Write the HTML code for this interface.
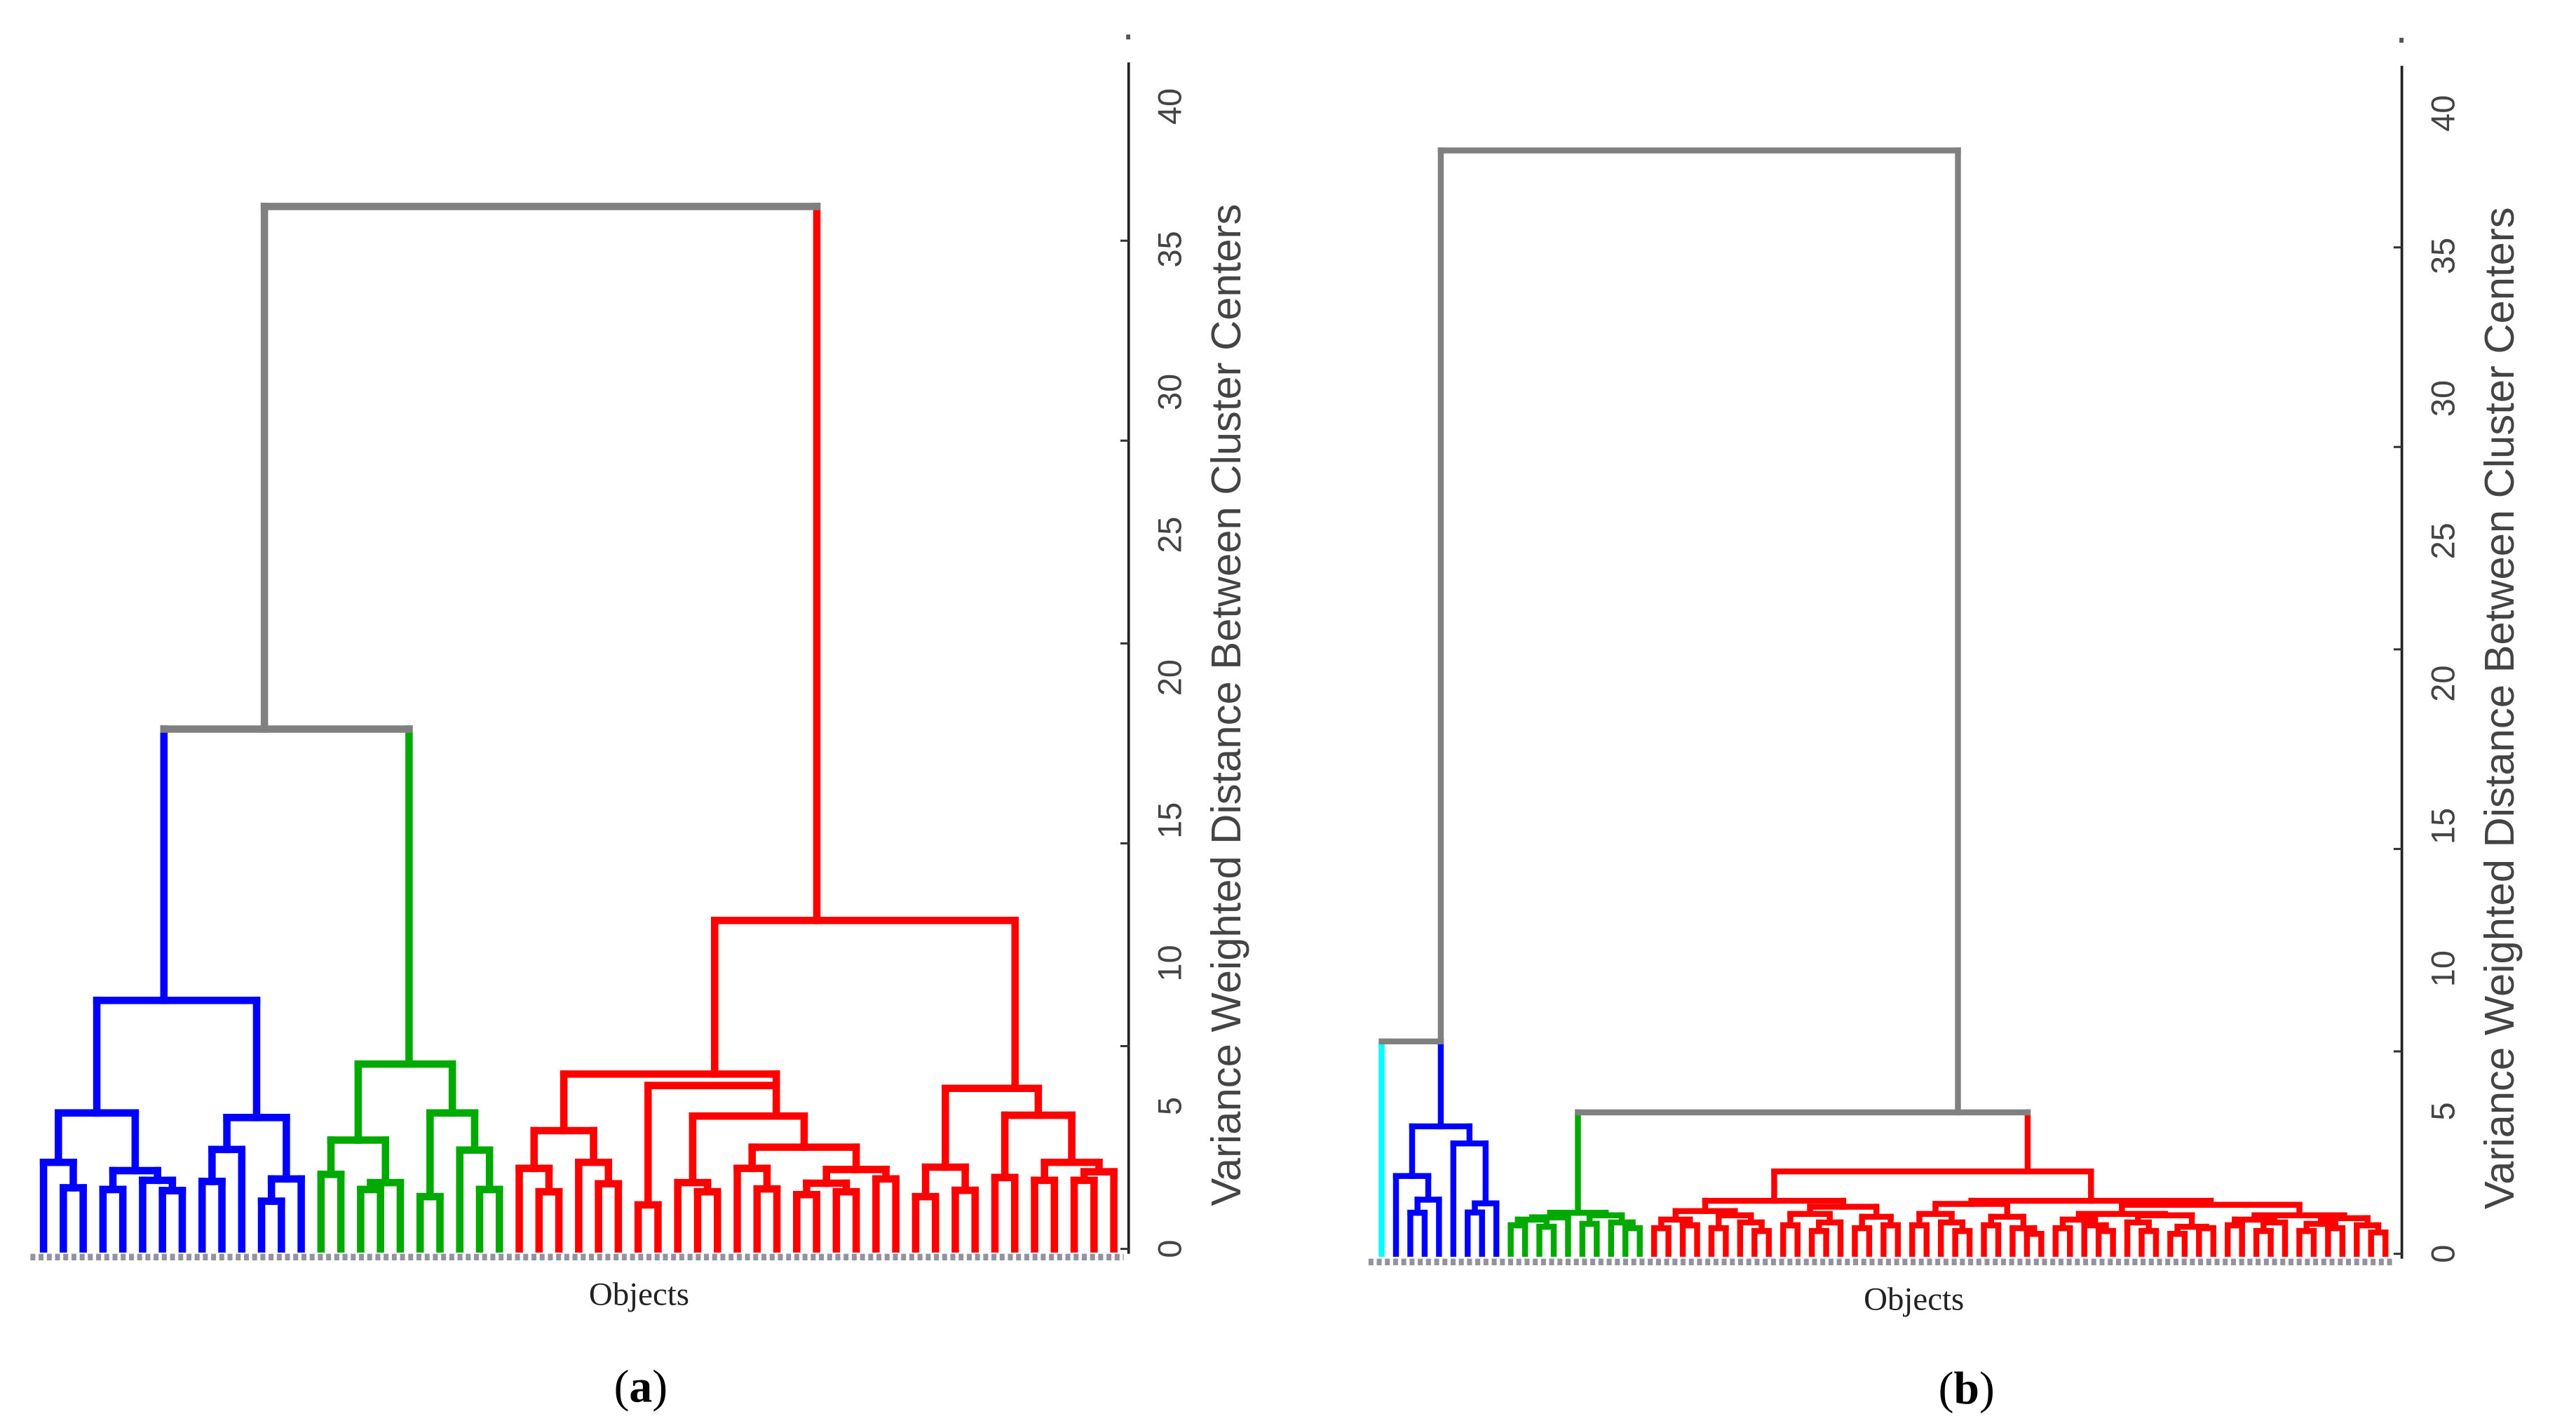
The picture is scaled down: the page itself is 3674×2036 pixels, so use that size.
<!DOCTYPE html>
<html><head><meta charset="utf-8"><style>
html,body{margin:0;padding:0;background:#fff;}
svg{display:block;}
</style></head><body>
<svg id="fig" xmlns="http://www.w3.org/2000/svg" width="3674" height="2036" viewBox="0 0 1568 869" preserveAspectRatio="none">
<rect width="1568" height="869" fill="#fff"/>
<g id="pa"></g>
<g id="pb"></g>
<text x="389" y="794" font-family="Liberation Serif, serif" font-size="20" text-anchor="middle" fill="#222">Objects</text>
<text x="390" y="853" font-family="Liberation Serif, serif" font-size="28" text-anchor="middle" fill="#000">(<tspan font-weight="bold">a</tspan>)</text>
<text x="1165" y="797" font-family="Liberation Serif, serif" font-size="20" text-anchor="middle" fill="#222">Objects</text>
<text x="1197" y="854" font-family="Liberation Serif, serif" font-size="28" text-anchor="middle" fill="#000">(<tspan font-weight="bold">b</tspan>)</text>
</svg>
<script>
const L = null;
// Panel (a) clusters: [height, left, right, color, legFraction]
const blueA = [8.7,
  [4.76, [3.03, L, [2.14, L, L]], [2.74, [2.08, L, L], [2.4, L, [2.04, L, L]]]],
  [4.6, [3.48, [2.36, L, L], L], [2.45, [1.67, L, L], L]], 'blue', 0.42];
const greenA = [6.47, [3.81, [2.61, L, L], [2.32, [2.08, L, L], L]],
  [4.76, [1.83, L, L], [3.46, L, [2.08, L, L]]], 'green', 0.54];
const redA = [11.5,
  [6.12,
    [4.14, [2.82, L, [2.0, L, L]], [3.03, L, [2.28, L, L]]],
    [5.72, [1.54, L, L],
      [4.65, [2.32, L, [2.0, L, L]],
        [3.56, [2.82, L, [2.1, L, L]],
          [2.78, [2.3, [1.9, L, L], [2.0, L, L]], [2.45, L, L]]], null, 0.75], null, 1.0], null, 0.71],
  [5.62, [2.86, [1.83, L, L], [2.05, L, L]],
    [4.68, [2.5, L, L], [3.03, [2.4, L, L], [2.7, [2.4, L, L], L]]], null, 0.75], 'red', 0.34];
const treeA = [36.5, [18.2, blueA, greenA, 'gray', 0.41], redA, 'gray'];

// Panel (b) clusters
const blueB = [4.47, [2.73, L, [1.9, [1.44, L, L], L]], [3.87, L, [1.77, [1.45, L, L], L]], 'blue'];
const greenB = [1.44, [1.28, [1.2, [1.0, L, L], [0.95, L, L]], L],
  [1.35, [1.05, L, L], [1.1, L, [0.9, L, L]]], 'green'];
const redB = [2.89,
  [1.86,
    [1.5, [1.2, [0.9, L, L], [1.0, L, L]], [1.35, [0.9, L, L], [1.1, L, [0.8, L, L]]]],
    [1.65, [1.4, [1.0, L, L], [1.1, [0.8, L, L], L]], [1.3, [0.9, L, L], [1.0, L, L]]]],
  [1.86,
    [1.75, [1.4, [1.0, L, L], [1.1, L, [0.8, L, L]]], [1.3, [1.0, L, L], [0.9, L, [0.7, L, L]]]],
    [1.72,
      [1.4, [1.2, [0.9, L, L], [1.0, L, [0.8, L, L]]], [1.35, [1.1, L, [0.8, L, L]], [0.95, [0.7, L, L], [0.9, L, L]]]],
      [1.35, [1.2, [1.0, L, L], [1.1, [0.8, L, L], L]], [1.25, [1.05, [0.8, L, L], [0.9, L, L]], [1.0, L, [0.75, L, L]]]]]], 'red', 0.8];
const treeB = [38.7, [7.45, 'cyan', blueB, 'gray', 1.0], [4.96, greenB, redB, 'gray', 0.845], 'gray'];

const yTicks = [0, 5, 10, 15, 20, 25, 30, 35, 40];
const tickMarks = [0, 7.1, 14.2, 21.2, 28.3, 35.3];

const colorMap = {blue: '#0000ff', green: '#00aa00', red: '#ff0000', gray: '#808080', cyan: '#00ffff'};
const NS = 'http://www.w3.org/2000/svg';

function countLeaves(n) { return (n === null || typeof n === 'string') ? 1 : countLeaves(n[1]) + countLeaves(n[2]); }

function drawPanel(g, tree, cfg) {
  const yOf = v => cfg.y0 - v * cfg.py;
  const n = countLeaves(tree);
  const step = (cfg.xEnd - cfg.xStart) / (n - 1);
  let idx = 0;
  function layout(node, inherited) {
    if (node === null || typeof node === 'string') {
      const x = cfg.xStart + step * idx++;
      return {x: x, h: 0, c: typeof node === 'string' ? node : inherited};
    }
    const c = node[3] || inherited;
    const a = layout(node[1], c);
    const b = layout(node[2], c);
    const f = (node[4] === undefined) ? 0.5 : node[4];
    const x = a.x + (b.x - a.x) * f;
    const y = yOf(node[0]);
    [a, b].forEach(ch => {
      const ln = document.createElementNS(NS, 'line');
      ln.setAttribute('x1', ch.x); ln.setAttribute('x2', ch.x);
      ln.setAttribute('y1', y); ln.setAttribute('y2', yOf(ch.h));
      ln.setAttribute('stroke', colorMap[ch.c]);
      ln.setAttribute('stroke-width', cfg.sw);
      ln.setAttribute('stroke-linecap', 'square');
      
      
      g.appendChild(ln);
    });
    const hz = document.createElementNS(NS, 'line');
    hz.setAttribute('x1', a.x); hz.setAttribute('x2', b.x);
    hz.setAttribute('y1', y); hz.setAttribute('y2', y);
    hz.setAttribute('stroke', colorMap[c]);
    hz.setAttribute('stroke-width', cfg.sw);
    hz.setAttribute('stroke-linecap', 'square');
    
    
    g.appendChild(hz);
    return {x: x, h: node[0], c: c};
  }
  layout(tree, 'gray');

  const band = document.createElementNS(NS, 'line');
  band.setAttribute('x1', cfg.xStart - 8); band.setAttribute('x2', cfg.xEnd + 6);
  band.setAttribute('y1', cfg.y0 + 5); band.setAttribute('y2', cfg.y0 + 5);
  band.setAttribute('stroke', '#3a3a55'); band.setAttribute('stroke-width', 4);
  band.setAttribute('stroke-dasharray', '3 2'); band.setAttribute('opacity', '0.55');
  
  
  g.appendChild(band);

  const ax = document.createElementNS(NS, 'line');
  ax.setAttribute('x1', cfg.ax); ax.setAttribute('x2', cfg.ax);
  ax.setAttribute('y1', cfg.axTop); ax.setAttribute('y2', cfg.y0 + 3);
  ax.setAttribute('stroke', '#222'); ax.setAttribute('stroke-width', 1.6);
  
  
  g.appendChild(ax);
  const dot = document.createElementNS(NS, 'rect');
  dot.setAttribute('x', cfg.ax - 1.5); dot.setAttribute('y', cfg.axTop - 17);
  dot.setAttribute('width', 2.5); dot.setAttribute('height', 3); dot.setAttribute('fill', '#555');
  
  
  g.appendChild(dot);
  tickMarks.forEach(v => {
    const t = document.createElementNS(NS, 'line');
    t.setAttribute('x1', cfg.ax - 5); t.setAttribute('x2', cfg.ax);
    t.setAttribute('y1', yOf(v)); t.setAttribute('y2', yOf(v));
    t.setAttribute('stroke', '#333'); t.setAttribute('stroke-width', 1.3);
    
    
    g.appendChild(t);
  });
  yTicks.forEach(v => {
    const t = document.createElementNS(NS, 'text');
    const x = cfg.ax + 32, y = yOf(v);
    t.setAttribute('x', x); t.setAttribute('y', y);
    t.setAttribute('transform', 'rotate(-90 ' + x + ' ' + y + ')');
    t.setAttribute('text-anchor', 'middle');
    t.setAttribute('font-family', 'Liberation Sans, sans-serif');
    t.setAttribute('font-size', '20');
    t.setAttribute('fill', '#444');
    
    
    t.textContent = v;
    g.appendChild(t);
  });
  const tt = document.createElementNS(NS, 'text');
  const tx = cfg.ax + 68, ty = cfg.titleY;
  tt.setAttribute('x', tx); tt.setAttribute('y', ty);
  tt.setAttribute('transform', 'rotate(-90 ' + tx + ' ' + ty + ')');
  tt.setAttribute('text-anchor', 'middle');
  tt.setAttribute('font-family', 'Liberation Sans, sans-serif');
  tt.setAttribute('font-size', '25.5');
  tt.setAttribute('fill', '#444');
  
  
  tt.textContent = 'Variance Weighted Distance Between Cluster Centers';
  g.appendChild(tt);
}

drawPanel(document.getElementById('pa'), treeA, {xStart: 26.5, xEnd: 678, y0: 760, py: 17.38, sw: 4.5, ax: 687, axTop: 38, titleY: 429});
drawPanel(document.getElementById('pb'), treeB, {xStart: 841, xEnd: 1452, y0: 763, py: 17.35, sw: 3.6, ax: 1462, axTop: 40, titleY: 431});
</script>
</body></html>
